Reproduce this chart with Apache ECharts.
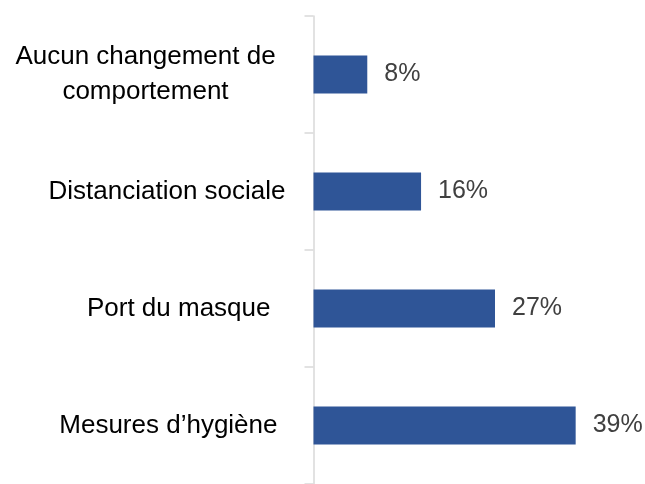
<!DOCTYPE html>
<html>
<head>
<meta charset="utf-8">
<script src="https://cdn.jsdelivr.net/npm/echarts@6/dist/echarts.min.js"></script>
<style>html,body{margin:0;padding:0;background:#fff}#c{width:645px;height:484px}</style>
</head>
<body>
<div id="c"></div>
<script>
const categories = ["Aucun changement de\ncomportement", "Distanciation sociale", "Port du masque", "Mesures d\u2019hygi\u00e8ne"];
const values = [8, 16, 27, 39];

const labelStyles = [
  {align: 'center', padding: [0, 280, 0, 0], lineHeight: 35},
  {},
  {padding: [0, 15, 0, 0]},
  {padding: [0, 8, 0, 0]}
];

const chart = echarts.init(document.getElementById('c'), null, {renderer: 'canvas'});
chart.setOption({
  animation: false,
  grid: {left: 313.5, right: 29, top: 16, height: 475, containLabel: false},
  xAxis: {type: 'value', min: 0, max: 45, show: false},
  yAxis: {
    type: 'category',
    inverse: true,
    data: categories.map((c, i) => ({value: c, textStyle: labelStyles[i]})),
    axisLine: {show: true, lineStyle: {color: '#D9D9D9', width: 1.5}},
    axisTick: {show: true, length: 9, lineStyle: {color: '#D9D9D9', width: 1.5}},
    axisLabel: {
      margin: 28,
      color: '#000000',
      fontFamily: 'Liberation Sans',
      fontSize: 26,
      align: 'right'
    },
    splitLine: {show: false}
  },
  series: [{
    type: 'bar',
    data: values,
    barWidth: 38,
    itemStyle: {color: '#2F5597'},
    label: {
      show: true,
      position: 'right',
      distance: 17,
      formatter: '{c}%',
      color: '#404040',
      fontFamily: 'Liberation Sans',
      fontSize: 25
    }
  }]
});
</script>
</body>
</html>
